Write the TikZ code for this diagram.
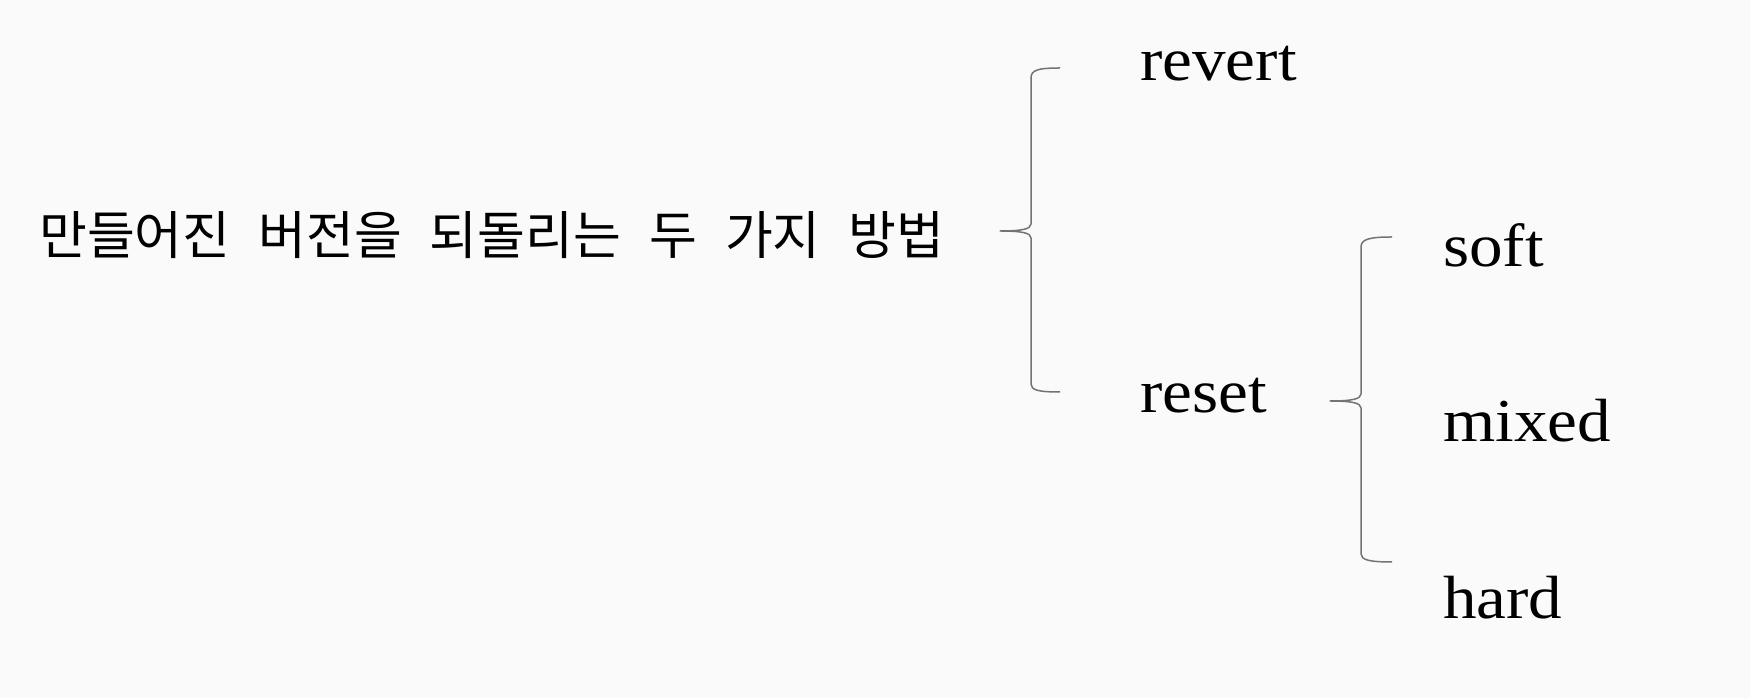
\documentclass[tikz,border=0pt]{standalone}
\usepackage{fontspec}
\setmainfont[FakeStretch=1.1]{Liberation Serif}
\newfontfamily\kor[WordSpace=2.4]{Noto Sans CJK KR}
\usetikzlibrary{positioning}

\begin{document}
\begin{tikzpicture}[
  x=1pt, y=1pt,
  item/.style={anchor=base west, inner sep=0pt, font=\fontsize{61}{70}\selectfont},
  topic/.style={anchor=base west, inner sep=0pt, font=\kor\fontsize{52}{60}\selectfont},
  curly/.style={draw=black!55, line width=1.5pt, line join=round},
]
\fill[white!98!black] (0,0) rectangle (1750,698);
\useasboundingbox (0,0) rectangle (1750,698);

\node[topic] (root) at (39,443) {만들어진 버전을 되돌리는 두 가지 방법};

\node[item] (revert) at (1140,617) {revert};
\node[item] (reset) at (1140,285) {reset};
\node[item] (soft) at (1443,431) {soft};
\node[item] (mixed) at (1443,256) {mixed};
\node[item] (hard) at (1443,79) {hard};

% brace ends and tips
\coordinate (b1hi) at (1060,630);
\coordinate (b1tip) at (1000,467);
\coordinate (b1lo) at (1060,306);
\coordinate (b2hi) at (1392,461);
\coordinate (b2tip) at (1330,297);
\coordinate (b2lo) at (1392,136);

\draw[curly] (b1hi) .. controls (1038,630) and (1031,628) .. (1031,620)
  -- (1031,474) .. controls (1031,469) and (1022,467) .. (b1tip)
  .. controls (1022,467) and (1031,465) .. (1031,460)
  -- (1031,314) .. controls (1031,308) and (1038,306) .. (b1lo);
\draw[curly] (b2hi) .. controls (1370,461) and (1361,459) .. (1361,451)
  -- (1361,304) .. controls (1361,299) and (1352,297) .. (b2tip)
  .. controls (1352,297) and (1361,295) .. (1361,290)
  -- (1361,144) .. controls (1361,138) and (1370,136) .. (b2lo);
\end{tikzpicture}
\end{document}
